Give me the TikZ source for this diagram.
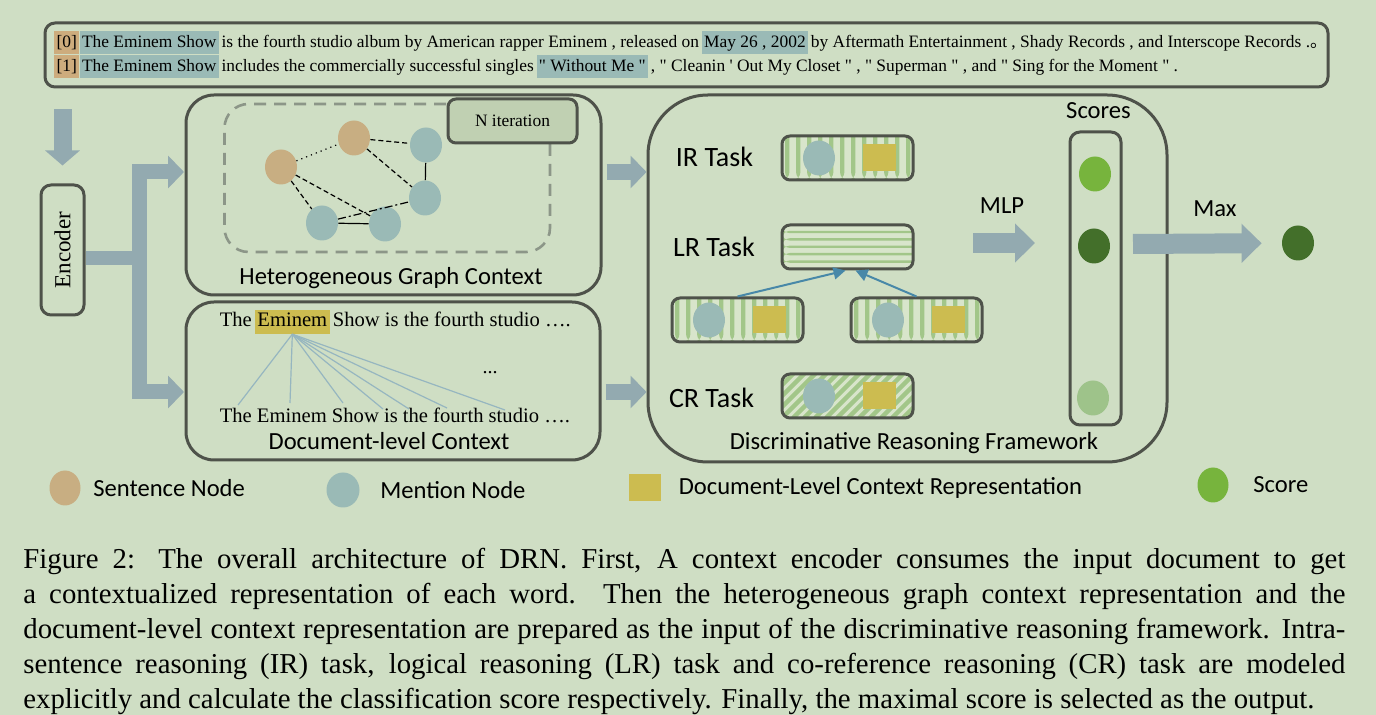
\documentclass[tikz,border=0pt]{standalone}
\usepackage{fontspec}
\setmainfont{Liberation Serif}
\newfontfamily\calibri{Carlito}
\newfontfamily\cjk{Noto Sans CJK SC}
\usetikzlibrary{positioning,shapes.geometric,arrows.meta}
\definecolor{bg}{RGB}{207,222,196}
\definecolor{linec}{RGB}{78,82,74}
\definecolor{sentc}{RGB}{200,174,130}
\definecolor{tanhl}{RGB}{205,172,125}
\definecolor{mentc}{RGB}{154,186,182}
\definecolor{docc}{RGB}{204,188,80}
\definecolor{fatc}{RGB}{147,170,176}
\definecolor{stripec}{RGB}{162,198,137}
\definecolor{barbg}{RGB}{216,229,203}
\definecolor{bluec}{RGB}{72,136,168}
\definecolor{iterc}{RGB}{192,208,178}
\definecolor{dashc}{RGB}{140,150,136}
\definecolor{fanc}{RGB}{150,182,192}
\definecolor{scoreA}{RGB}{119,180,61}
\definecolor{scoreB}{RGB}{67,111,42}
\definecolor{scoreC}{RGB}{158,195,138}

\begin{document}
\begin{tikzpicture}[x=0.5pt,y=-0.5pt,line join=round,
    box/.style={draw=linec,line width=1.5pt,inner sep=0},
    seg/.style={anchor=base west,inner xsep=1.1pt,inner ysep=0.6pt,text height=7.6pt,text depth=2.6pt,font=\fontsize{8.7}{10}\selectfont},
    dseg/.style={seg,inner xsep=1.2pt,text height=8pt,text depth=2.8pt,font=\fontsize{10.3}{12}\selectfont},
    lbl/.style={anchor=base,inner sep=0,font=\calibri\fontsize{12.3}{14}\selectfont},
    task/.style={anchor=base,inner sep=0,font=\calibri\fontsize{14}{16}\selectfont},
    dot/.style={ellipse,inner sep=0,minimum width=16pt,minimum height=17.5pt},
    sent/.style={dot,fill=sentc},
    ment/.style={dot,fill=mentc},
    docsq/.style={fill=docc,inner sep=0,minimum width=16.5pt,minimum height=13.5pt},
    gedge/.style={line width=0.6pt},
    fan/.style={draw=fanc,line width=0.6pt},
    fat/.style={draw=fatc,line width=8pt,line join=miter,-{Triangle[length=8pt,width=16pt]}},
    lnk/.style={draw=bluec,line width=1pt,-{Triangle[length=6pt,width=6pt]}},
    bar/.style={box,rounded corners=4pt,minimum width=65.5pt,minimum height=22pt,fill=barbg},
    vbar/.style={bar,path picture={\foreach \k in {0,...,12}
        \fill[stripec] ([xshift=\k*5.5pt+1.5pt]path picture bounding box.south west) rectangle ++(2.2pt,30pt);}},
    hbar/.style={bar,path picture={\foreach \k in {1,...,5}
        \fill[stripec] ([yshift=\k*3.7pt-0.6pt]path picture bounding box.south west) rectangle ++(80pt,1.2pt);}},
    dbar/.style={bar,path picture={\foreach \k in {-5,...,13}
        \draw[stripec,line width=2.2pt] ([xshift=\k*5.5pt]path picture bounding box.south west) -- ++(26pt,26pt);}},
  ]
  \useasboundingbox (0,0) rectangle (1376,715);
  \fill[bg] (0,0) rectangle (1376,715);
  %% input sentences
  \node (sents) at (686.5,55) [box,rounded corners=5pt,minimum width=641.5pt,minimum height=32pt] {};
  \node (a0) at (54,47.6) [seg,fill=tanhl] {[0]};
  \node (a1) [seg,fill=mentc,base right=0pt of a0] {The Eminem Show};
  \node (a2) [seg,base right=0pt of a1] {is the fourth studio album by American rapper Eminem , released on};
  \node (a3) [seg,fill=mentc,base right=0pt of a2] {May 26 , 2002};
  \node (a4) [seg,base right=0pt of a3] {by Aftermath Entertainment , Shady Records , and Interscope Records .{\cjk 。}};
  \node (b0) at (54,71.6) [seg,fill=tanhl] {[1]};
  \node (b1) [seg,fill=mentc,base right=0pt of b0] {The Eminem Show};
  \node (b2) [seg,base right=0pt of b1] {includes the commercially successful singles};
  \node (b3) [seg,fill=mentc,base right=0pt of b2] {\textquotedbl\ Without Me \textquotedbl};
  \node (b4) [seg,base right=0pt of b3] {, \textquotedbl\ Cleanin \textquotesingle\ Out My Closet \textquotedbl\ , \textquotedbl\ Superman \textquotedbl\ , and \textquotedbl\ Sing for the Moment \textquotedbl\ .};
  %% encoder
  \node (enc) at (62.5,250) [box,rounded corners=5pt,minimum width=21.5pt,minimum height=65pt] {};
  \node (enct) at (enc) [rotate=90,font=\fontsize{11.5}{13}\selectfont] {Encoder};
  %% heterogeneous graph context
  \node (graph) at (393.5,195) [box,rounded corners=14pt,minimum width=207.5pt,minimum height=100pt] {};
  \node (loop) at (387.25,178) [draw=dashc,line width=1.3pt,dash pattern=on 6pt off 4pt,rounded corners=12pt,minimum width=162.75pt,minimum height=74pt,inner sep=0] {};
  \node (iter) at (512.5,121) [box,fill=iterc,rounded corners=4pt,minimum width=64.5pt,minimum height=22pt,font=\fontsize{8.7}{10}\selectfont] {N iteration};
  \node (s1) at (281,167) [sent] {};
  \node (s2) at (354,138) [sent] {};
  \node (m1) at (426,145) [ment] {};
  \node (m2) at (425,198) [ment] {};
  \node (m3) at (322,223) [ment] {};
  \node (m4) at (385,224) [ment] {};
  \draw [gedge,dotted] (s1) -- (s2);
  \draw [gedge,dashed,dash pattern=on 2.5pt off 1.5pt] (s2) -- (m1);
  \draw [gedge,dashed,dash pattern=on 2.5pt off 1.5pt] (s2) -- (m2);
  \draw [gedge] (m1) -- (m2);
  \draw [gedge,dashed,dash pattern=on 2.5pt off 1.5pt] (s1) -- (m3);
  \draw [gedge,dashed,dash pattern=on 2.5pt off 1.5pt] (s1) -- (m4);
  \draw [gedge,dash pattern=on 4pt off 1.5pt on 1pt off 1.5pt] (m3) -- (m2);
  \draw [gedge] (m3) -- (m4);
  \node (gl) at (391,285) [lbl] {Heterogeneous Graph Context};
  %% document-level context
  \node (doc) at (393,381) [box,rounded corners=14pt,minimum width=207pt,minimum height=79pt] {};
  \node (d0) at (217,327) [dseg] {The};
  \node (emi) [dseg,fill=docc,base right=0pt of d0] {Eminem};
  \node (d1) [dseg,base right=0pt of emi] {Show is the fourth studio \ldots.};
  \node (dots) at (490,373) [font=\fontsize{10}{12}\selectfont] {...};
  \node (d2) at (217,423) [dseg] {The Eminem Show is the fourth studio \ldots.};
  \foreach \x/\y [count=\i] in {238/405,290/403,343/403,383/409,409/409,447/408,505/410}
    \coordinate (f\i) at (\x,\y);
  \foreach \i in {1,...,7}
    \draw [fan] (emi.south) -- (f\i);
  \node (dl) at (389,450) [lbl] {Document-level Context};
  %% discriminative reasoning framework
  \node (drf) at (907.5,278.5) [box,rounded corners=30pt,minimum width=259.5pt,minimum height=183.5pt] {};
  \node (ir) at (847.5,158) [vbar] {};
  \node (lr) at (847.5,247) [hbar] {};
  \node (lb) at (737.5,320) [vbar] {};
  \node (rb) at (916.5,320) [vbar] {};
  \node (cr) at (847.5,396) [dbar] {};
  \foreach \b in {ir,lb,rb,cr} {
    \node (\b c) at ([xshift=-14.25pt]\b.center) [ment] {};
    \node (\b s) at ([xshift=15.75pt]\b.center) [docsq] {};
  }
  \draw [lnk] (lb.north) -- ([xshift=-1pt]lr.south);
  \draw [lnk] (rb.north) -- ([xshift=4pt]lr.south);
  \node (irt) at (714.5,167) [task] {IR Task};
  \node (lrt) at (714,257) [task] {LR Task};
  \node (crt) at (711.5,408) [task] {CR Task};
  \node (drfl) at (914,450) [lbl] {Discriminative Reasoning Framework};
  %% scores
  \node (col) at (1095.5,278.5) [box,rounded corners=5pt,minimum width=25.5pt,minimum height=146.5pt] {};
  \node (sct) at (1098.5,119) [lbl] {Scores};
  \node (sc1) at (1095,174) [dot,fill=scoreA] {};
  \node (sc2) at (1094,246) [dot,fill=scoreB] {};
  \node (sc3) at (1093,398) [dot,fill=scoreC] {};
  \node (best) at (1298,243) [dot,fill=scoreB] {};
  \node (mlpt) at (1002,214) [lbl] {MLP};
  \node (maxt) at (1215,217) [lbl] {Max};
  %% thick arrows
  \coordinate (split) at (139,258);
  \coordinate (gin) at (184,172);
  \coordinate (din) at (184,392);
  \coordinate (mlp0) at (973,243);
  \coordinate (mlp1) at (1035,243);
  \coordinate (max0) at (1133,244);
  \draw [fat,line width=9pt,-{Triangle[length=7.5pt,width=17pt]},shorten <=10.5pt,shorten >=9pt] (sents.south -| enc) -- (enc.north);
  \draw [fat,line width=7pt,-] (enc.east |- split) -- (split);
  \draw [fat,line width=7.5pt] (split) |- (gin);
  \draw [fat,line width=7.5pt] (split) |- (din);
  \draw [fat,shorten <=2pt] (graph.east |- gin) -- (drf.west |- gin);
  \draw [fat,shorten <=2pt] (doc.east |- din) -- (drf.west |- din);
  \draw [fat,line width=10pt,-{Triangle[length=10pt,width=19pt]}] (mlp0) -- (mlp1);
  \draw [fat,line width=10pt,-{Triangle[length=10pt,width=19pt]},shorten >=10pt] (max0) -- (best);
  %% legend
  \node (lgs) at (65,488) [sent,minimum height=17.5pt,minimum width=15.5pt] {};
  \node (lgst) [lbl,anchor=west,right=6pt of lgs] {Sentence Node};
  \node (lgm) at (343,490) [ment,minimum width=16.5pt] {};
  \node (lgmt) [lbl,anchor=west,right=10pt of lgm] {Mention Node};
  \node (lgd) at (645,487.5) [docsq,minimum width=16pt] {};
  \node (lgdt) [lbl,anchor=west,right=8.5pt of lgd] {Document-Level Context Representation};
  \node (lgc) at (1213,485) [dot,fill=scoreA,minimum width=15.5pt] {};
  \node (lgct) [lbl,anchor=west,right=12pt of lgc] {Score};
  %% caption
  \node (cap) at (23,548) [anchor=north west,inner sep=0,text width=661pt,align=justify,font=\fontsize{14.4}{17.5}\selectfont]
    {Figure 2: The overall architecture of DRN. First, A context encoder consumes the input document to get\linebreak
     a contextualized representation of each word. Then the heterogeneous graph context representation and the\linebreak
     document-level context representation are prepared as the input of the discriminative reasoning framework. Intra-\linebreak
     sentence reasoning (IR) task, logical reasoning (LR) task and co-reference reasoning (CR) task are modeled\linebreak
     explicitly and calculate the classification score respectively. Finally, the maximal score is selected as the output.};
  %
\end{tikzpicture}
\end{document}
